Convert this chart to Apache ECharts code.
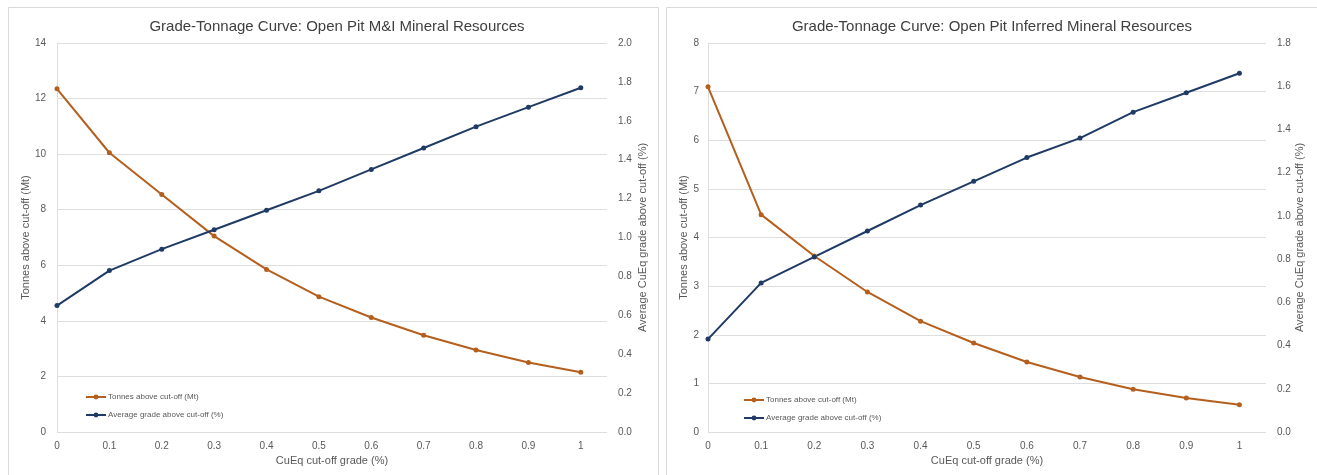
<!DOCTYPE html>
<html>
<head>
<meta charset="utf-8">
<script src="https://cdn.jsdelivr.net/npm/echarts@6/dist/echarts.min.js"></script>
<style>
  html, body { margin: 0; padding: 0; background: #ffffff; }
  #chart { width: 1317px; height: 475px; }
</style>
</head>
<body>
<div id="chart"></div>
<script>
// Cut-off grades (CuEq %)
const cutoffs = [0, 0.1, 0.2, 0.3, 0.4, 0.5, 0.6, 0.7, 0.8, 0.9, 1.0];

// Open pit M&I resources
const miTonnes = [12.35, 10.05, 8.55, 7.05, 5.85, 4.87, 4.12, 3.48, 2.95, 2.50, 2.15];
const miGrade  = [0.65, 0.83, 0.94, 1.04, 1.14, 1.24, 1.35, 1.46, 1.57, 1.67, 1.77];

// Open pit inferred resources
const infTonnes = [7.10, 4.47, 3.62, 2.88, 2.28, 1.83, 1.44, 1.13, 0.88, 0.70, 0.56];
const infGrade  = [0.43, 0.69, 0.81, 0.93, 1.05, 1.16, 1.27, 1.36, 1.48, 1.57, 1.66];

const titles = [
  'Grade-Tonnage Curve: Open Pit M&I Mineral Resources',
  'Grade-Tonnage Curve: Open Pit Inferred Mineral Resources'
];
const tonnesName = 'Tonnes above cut-off (Mt)';
const gradeName = 'Average grade above cut-off (%)';
const xName = 'CuEq cut-off grade (%)';
const leftAxisName = 'Tonnes above cut-off (Mt)';
const rightAxisName = 'Average CuEq grade above cut-off (%)';

const ORANGE = '#b45f1e';
const NAVY = '#1f3a64';
const GRID = '#dedede';
const LABEL = '#595959';
const FONT = '"Liberation Sans", Arial, sans-serif';

const pair = (xs, ys) => xs.map((x, i) => [x, ys[i]]);

function xAxisFor(gridIndex) {
  return {
    type: 'value', gridIndex, min: 0, max: 1.05, interval: 0.1,
    name: xName, nameLocation: 'middle', nameGap: 23,
    nameTextStyle: { color: LABEL, fontSize: 11, fontFamily: FONT },
    axisLine: { show: false }, axisTick: { show: false },
    splitLine: { show: false },
    axisLabel: {
      color: LABEL, fontSize: 10, fontFamily: FONT, margin: 9, showMaxLabel: false,
      formatter: v => (v > 1.0001 ? '' : (Math.abs(v) < 1e-9 ? '0' : (Math.abs(v - 1) < 1e-9 ? '1' : v.toFixed(1))))
    }
  };
}

function yAxisFor(gridIndex, side, max, interval, digits, name, gap, labelMargin) {
  return {
    type: 'value', gridIndex, position: side, min: 0, max, interval,
    name, nameLocation: 'middle', nameGap: gap, nameRotate: 90,
    nameTextStyle: { color: LABEL, fontSize: 11, fontFamily: FONT },
    axisLine: { show: side === 'left', lineStyle: { color: GRID } },
    axisTick: { show: false },
    splitLine: { show: side === 'left', lineStyle: { color: GRID, width: 1 } },
    axisLabel: {
      color: LABEL, fontSize: 10, fontFamily: FONT, margin: labelMargin,
      formatter: v => v.toFixed(digits)
    }
  };
}

function lineSeries(name, data, color, xi, yi) {
  return {
    name, type: 'line', xAxisIndex: xi, yAxisIndex: yi, data,
    symbol: 'circle', symbolSize: 5,
    lineStyle: { color, width: 2 },
    itemStyle: { color },
    animation: false
  };
}

function legendAt(left, top, names) {
  return {
    left, top, padding: 0, orient: 'vertical', itemGap: 10, itemWidth: 20, itemHeight: 6,
    data: names.map(n => ({ name: n })),
    textStyle: { color: LABEL, fontSize: 8, fontFamily: FONT, padding: [0, 0, 0, -3] }
  };
}

const chart = echarts.init(document.getElementById('chart'), null, { renderer: 'canvas' });

chart.setOption({
  backgroundColor: '#ffffff',
  animation: false,
  graphic: [
    { type: 'rect', shape: { x: 8.5, y: 7.5, width: 650, height: 480 },
      style: { fill: 'none', stroke: '#d9d9d9', lineWidth: 1 }, silent: true },
    { type: 'rect', shape: { x: 666.5, y: 7.5, width: 660, height: 480 },
      style: { fill: 'none', stroke: '#d9d9d9', lineWidth: 1 }, silent: true }
  ],
  title: [
    { text: titles[0], left: 332, top: 14, textAlign: 'center',
      textStyle: { color: '#404040', fontSize: 15, fontWeight: 'normal', fontFamily: FONT } },
    { text: titles[1], left: 987, top: 14, textAlign: 'center',
      textStyle: { color: '#404040', fontSize: 15, fontWeight: 'normal', fontFamily: FONT } }
  ],
  legend: [
    legendAt(85, 393, [tonnesName, gradeName]),
    legendAt(743, 396, [tonnesName + ' ', gradeName + ' '])
  ],
  grid: [
    { left: 57, top: 43, width: 550, height: 389 },
    { left: 708, top: 43, width: 558, height: 389 }
  ],
  xAxis: [xAxisFor(0), xAxisFor(1)],
  yAxis: [
    yAxisFor(0, 'left', 14, 2, 0, leftAxisName, 22, 11),
    yAxisFor(0, 'right', 2.0, 0.2, 1, rightAxisName, 30, 11),
    yAxisFor(1, 'left', 8, 1, 0, leftAxisName, 19, 9),
    yAxisFor(1, 'right', 1.8, 0.2, 1, rightAxisName, 28, 11)
  ],
  series: [
    lineSeries(tonnesName, pair(cutoffs, miTonnes), ORANGE, 0, 0),
    lineSeries(gradeName, pair(cutoffs, miGrade), NAVY, 0, 1),
    lineSeries(tonnesName + ' ', pair(cutoffs, infTonnes), ORANGE, 1, 2),
    lineSeries(gradeName + ' ', pair(cutoffs, infGrade), NAVY, 1, 3)
  ]
});
</script>
</body>
</html>
